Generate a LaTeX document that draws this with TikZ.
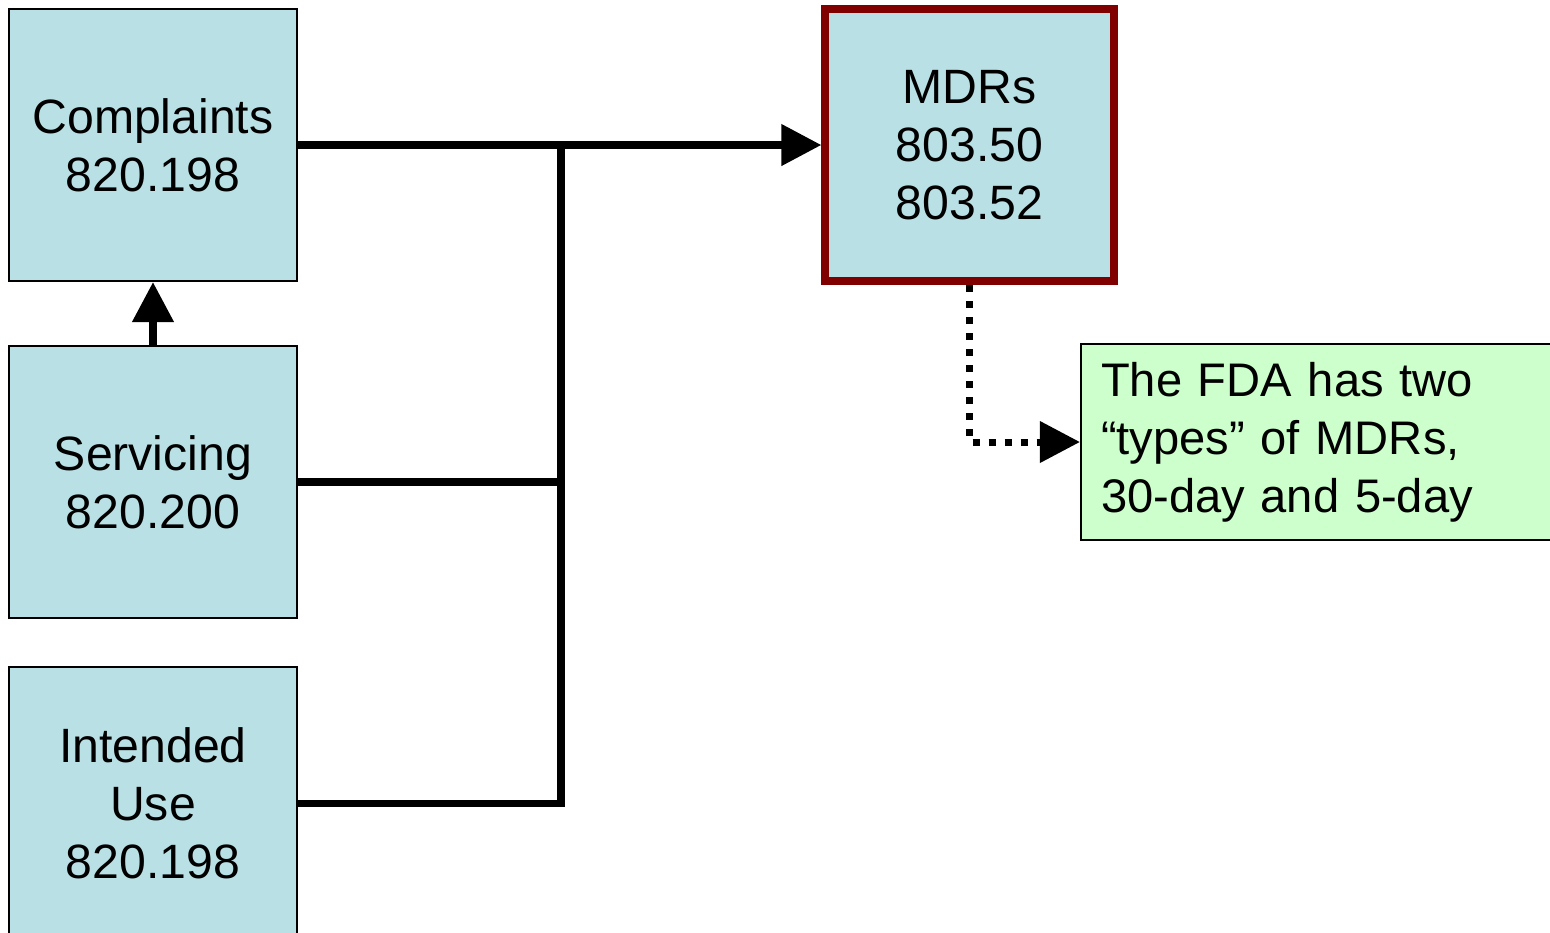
\documentclass[tikz,border=0pt]{standalone}
\usepackage{fontspec}
\setmainfont{Liberation Sans}
\usepackage{xcolor}
\usepackage{tikz}
\usetikzlibrary{arrows.meta,positioning}
\definecolor{boxblue}{RGB}{185,224,228}
\definecolor{notegreen}{RGB}{204,255,204}
\definecolor{mdrred}{RGB}{128,0,0}

\begin{document}
\begin{tikzpicture}[x=0.01cm,y=-0.01cm,node distance={0.63cm},
    main/.style = {draw=black, line width=0.02cm, fill=boxblue, minimum width=2.88cm,
      minimum height=2.72cm, inner sep=0pt, align=center,
      font=\fontsize{13.7}{16.5}\selectfont},
    note/.style = {draw=black, line width=0.02cm, fill=notegreen, minimum height=1.95cm,
      text width=4.6cm, inner xsep=0.2cm, inner ysep=0pt, align=left,
      font=\fontsize{13.4}{16.5}\selectfont},
    link/.style = {line width=0.075cm},
    bigarrow/.style = {-{Triangle[length=0.4cm,width=0.4cm]}}]
      \clip (0,0) rectangle (1550,932);

      \node[main] (compl) at (153,145) {Complaints\\820.198};
      \node[main] (serv) [below=of compl] {Servicing\\820.200};
      \node[main] (use) [below=0.47cm of serv] {Intended\\Use\\820.198};

      \node[main, draw=mdrred, line width=0.08cm] (mdr) [right=5.23cm of compl] {MDRs\\803.50\\803.52};
      \node[note, anchor=west] (fda) at (1080,442) {The FDA has two\\``types'' of MDRs,\\30-day and 5-day};

      \coordinate (jn) at (561,145);

      \draw[link, bigarrow] (compl.east) -- (mdr.west);
      \draw[link] (jn) |- (use.east);
      \draw[link] (serv.east) -- (serv.east -| jn);
      \draw[link, bigarrow] (serv.north) -- (compl.south);
      \draw[line width=0.07cm, dash pattern=on 0.07cm off 0.09cm, bigarrow] (mdr.south) |- (fda.west);

    \end{tikzpicture}
\end{document}
